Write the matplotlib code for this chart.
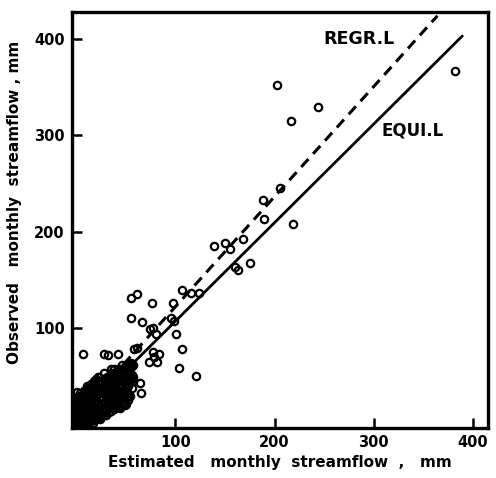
import matplotlib
matplotlib.use("Agg")
import matplotlib.pyplot as plt

# ---------------- data ----------------
# scattered monthly values (estimated, observed), mm
est_scatter = [202, 217, 244, 382, 206, 188, 189, 219,
               168, 150, 139, 155, 175, 160, 163,
               107, 116, 124, 77, 98, 55, 62,
               55, 67, 96, 99, 78, 81, 101, 75,
               62, 107, 78, 84, 79, 74, 82, 104, 121,
               28, 32, 42, 35, 55, 49, 54, 59,
               65, 66, 51, 46, 49, 42, 7]
obs_scatter = [352, 315, 330, 367, 246, 233, 213, 208,
               193, 189, 185, 182, 168, 164, 161,
               140, 137, 137, 126, 126, 132, 136,
               111, 107, 111, 108, 100, 94, 94, 99,
               80, 79, 76, 73, 70, 65, 65, 59, 51,
               74, 72, 74, 58, 64, 60, 61, 79,
               43, 33, 29, 28, 21, 27, 74]

# dense cluster of small monthly values
est_cluster = [1, 2, 3, 2, 4, 5, 6, 3, 5, 7, 8, 9, 10, 10, 11, 12, 13, 14, 15, 16,
               17, 18, 19, 20, 21, 22, 23, 24, 25, 26, 27, 28, 29, 30, 31, 32, 33, 34,
               35, 36, 37, 38, 39, 40, 41, 42, 43, 44, 45, 46, 47, 48, 49, 50, 51, 52,
               53, 54, 55, 56, 58, 57,
               1, 2, 0, 1, 3, 4, 5, 8, 12, 15, 18, 20, 22, 3, 8, 12, 18, 24, 28, 33,
               38, 44, 50, 10, 14, 25, 30, 35, 40, 45, 20, 27, 16, 6, 9, 11,
               1, 2, 4, 6, 7, 9, 13, 17, 21, 26, 31, 36, 41, 46, 52, 56,
               1, 5, 9, 13, 17,
               2, 6, 14, 20, 24,
               4, 15, 19, 23, 30,
               2, 7, 21, 25, 29, 35,
               8, 12, 27, 31, 39, 44,
               1, 11, 15, 33, 37, 42, 47,
               4, 10, 20, 35, 39, 44, 52,
               7, 13, 17, 25, 40, 48, 54,
               1, 10, 19, 23, 29, 37, 46, 51,
               15, 21, 27, 33, 44, 56,
               17, 23, 29, 38, 51,
               19, 26, 33, 38, 44, 53,
               23, 31, 37, 43, 58,
               28, 35, 44, 48,
               38, 42, 50,
               46, 53]
obs_cluster = [2, 5, 8, 12, 3, 10, 15, 18, 22, 6, 12, 20, 4, 16, 25, 9, 14, 28, 20, 6,
               12, 24, 30, 16, 9, 22, 28, 35, 18, 26, 12, 32, 22, 38, 28, 16, 34, 25,
               42, 30, 20, 38, 45, 32, 26, 40, 48, 35, 42, 30, 50, 44, 38, 54, 46, 40,
               56, 50, 60, 52, 62, 45,
               25, 30, 20, 15, 28, 33, 30, 35, 38, 42, 45, 48, 50, 0, 1, 3, 5, 8, 10, 13,
               16, 20, 22, 30, 35, 45, 48, 50, 55, 58, 38, 40, 27, 27, 36, 40,
               8, 18, 24, 4, 31, 10, 22, 18, 34, 14, 42, 26, 36, 24, 30, 48,
               2, 2, 2, 2, 2,
               6, 6, 6, 6, 6,
               10, 10, 10, 10, 10,
               14, 14, 14, 14, 14, 14,
               18, 18, 18, 18, 18, 18,
               22, 22, 22, 22, 22, 22, 22,
               26, 26, 26, 26, 26, 26, 26,
               30, 30, 30, 30, 30, 30, 30,
               34, 34, 34, 34, 34, 34, 34, 34,
               38, 38, 38, 38, 38, 38,
               42, 42, 42, 42, 42,
               46, 46, 46, 46, 46, 46,
               50, 50, 50, 50, 50,
               54, 54, 54, 54,
               58, 58, 58,
               62, 62]

# line endpoints
regr_x = [0, 364]
regr_y = [8, 424]
equi_x = [0, 389]
equi_y = [5, 403]

xticks = [100, 200, 300, 400]
yticks = [100, 200, 300, 400]

# ---------------- styling ----------------
plt.rcParams["font.family"] = ["DejaVu Sans"]
plt.rcParams["font.weight"] = "bold"

fig = plt.figure(figsize=(4.96, 4.78), dpi=100)
ax = fig.add_axes([0.145, 0.105, 0.839, 0.870])

mk = dict(marker="o", linestyle="none", markersize=5.3, markerfacecolor="none",
          markeredgecolor="black", markeredgewidth=1.6)
ax.plot(est_cluster, obs_cluster, **mk)
ax.plot(est_scatter, obs_scatter, **mk)

ax.plot(equi_x, equi_y, color="black", lw=2.0, solid_capstyle="round")
ax.plot(regr_x, regr_y, color="black", lw=2.2, dashes=(3.5, 2.3))

ax.text(249, 400, "REGR.L", fontsize=12.5, fontweight="bold", va="center", ha="left")
ax.text(308, 305, "EQUI.L", fontsize=12, fontweight="bold", va="center", ha="left")

ax.set_xlim(-4, 415)
ax.set_ylim(-3, 428)
ax.set_xticks(xticks)
ax.set_yticks(yticks)
ax.set_xticklabels([str(v) for v in xticks], fontsize=10.5, fontweight="bold")
ax.set_yticklabels([str(v) for v in yticks], fontsize=10.5, fontweight="bold")
ax.tick_params(direction="in", length=7, width=1.8)
ax.tick_params(axis="x", pad=5)
ax.tick_params(axis="y", pad=5)
for s in ax.spines.values():
    s.set_linewidth(2.4)

ax.set_xlabel("Estimated   monthly  streamflow  ,   mm", fontsize=11, fontweight="bold",
              labelpad=4)
ax.set_ylabel("Observed   monthly  streamflow , mm", fontsize=11, fontweight="bold")
ax.yaxis.set_label_coords(-0.12, 0.543)

fig.savefig("out.png", dpi=100)
